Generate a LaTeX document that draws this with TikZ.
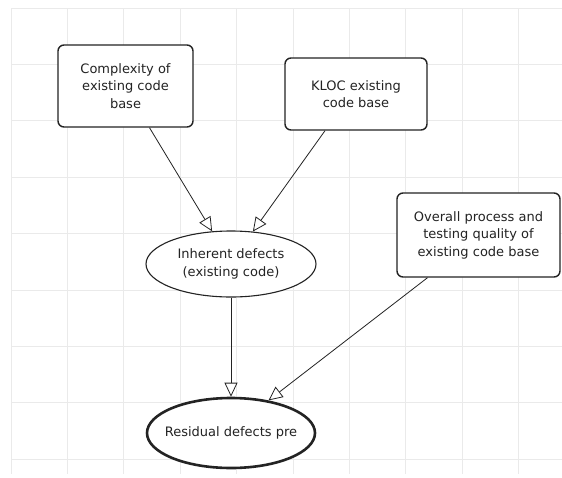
\documentclass[tikz,border=0pt]{standalone}
\usepackage{fontspec}
\setmainfont{DejaVu Sans}
\usetikzlibrary{arrows.meta,shapes.geometric}
\pgfdeclarelayer{background}
\pgfsetlayers{background, main}
\definecolor{gridgray}{RGB}{234,234,234}
\definecolor{ink}{RGB}{35,35,35}
\tikzset{
  factor/.style={draw=ink, line width=1.4pt, rounded corners=6pt, fill=white,
    align=center, inner sep=0pt, text=ink, font=\fontsize{13}{17.5}\selectfont},
  defect/.style={ellipse, draw=ink, line width=1.1pt, fill=white,
    align=center, inner sep=0pt, text=ink, font=\fontsize{13}{18.5}\selectfont},
  link/.style={draw=ink, line width=0.8pt,
    -{Triangle[length=14pt, width=13pt, fill=white, line width=0.8pt]}}
}

\begin{document}
\begin{tikzpicture}[x=1pt, y=-1pt]
  \useasboundingbox (0,0) rectangle (562,477);
  \node[factor, minimum width=135pt, minimum height=82pt] (cplx) at (125.5, 86) {Complexity of\\existing code\\base};
  \node[factor, minimum width=142pt, minimum height=72pt] (kloc) at (356, 94) {KLOC existing\\code base};
  \node[factor, minimum width=163pt, minimum height=84pt] (qual) at (478.5, 235) {Overall process and\\testing quality of\\existing code base};
  \node[defect, inner xsep=-6pt, minimum width=170pt, minimum height=66pt] (inh) at (231, 264) {Inherent defects\\(existing code)};
  \node[defect, inner xsep=-16pt, line width=2.6pt, minimum width=168pt, minimum height=70pt] (res) at (231, 433) {Residual defects pre};
  \draw[link] ([xshift=24pt]cplx.south) -- (inh.120);
  \draw[link] ([xshift=-31pt]kloc.south) -- (inh.56);
  \draw[link] (inh.south) -- (res.north);
  \draw[link] ([xshift=-51pt]qual.south) -- (res.41);
  \begin{pgfonlayer}{background}
    \fill[white] (0,0) rectangle (562,477);
    \foreach \gx in {0,...,9}
      \draw[gridgray, line width=0.8pt] (11+56.4*\gx, 8) -- (11+56.4*\gx, 474);
    \foreach \gy in {0,...,8}
      \draw[gridgray, line width=0.8pt] (11, 8+56.4*\gy) -- (562, 8+56.4*\gy);
  \end{pgfonlayer}
\end{tikzpicture}
\end{document}
